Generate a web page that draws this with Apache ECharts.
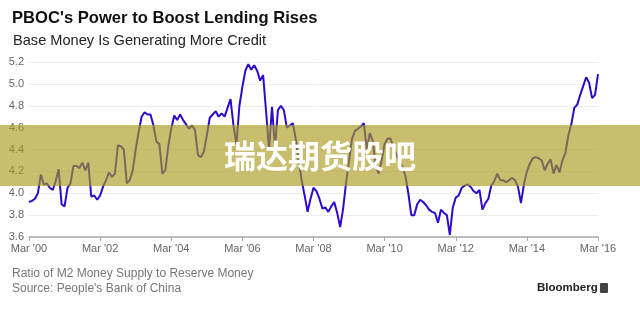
<!DOCTYPE html>
<html><head><meta charset="utf-8">
<script src="https://cdn.jsdelivr.net/npm/echarts@6/dist/echarts.min.js"></script>
<style>html,body{margin:0;padding:0;background:#fff}#c{width:640px;height:312px}</style>
</head><body><div id="c"></div>
<script>
// Monthly ratio of M2 to reserve money, Mar 2000 .. Mar 2016
const ratio = [
3.92,3.93,3.95,4.00,4.17,4.08,4.09,4.05,4.03,4.11,4.22,3.90,
3.88,4.05,4.09,4.25,4.25,4.23,4.28,4.21,4.28,3.97,3.98,3.94,
3.98,4.06,4.12,4.19,4.15,4.18,4.44,4.43,4.40,4.09,4.12,4.21,
4.40,4.56,4.70,4.74,4.72,4.72,4.62,4.47,4.45,4.18,4.21,4.43,
4.59,4.71,4.67,4.72,4.67,4.63,4.59,4.62,4.58,4.35,4.33,4.38,
4.53,4.69,4.72,4.75,4.70,4.73,4.70,4.78,4.86,4.62,4.45,4.80,
4.97,5.12,5.18,5.13,5.17,5.12,5.03,5.08,4.75,4.40,4.79,4.42,
4.76,4.80,4.76,4.60,4.62,4.64,4.50,4.30,4.12,3.98,3.83,3.95,
4.05,4.02,3.95,3.86,3.87,3.83,3.88,3.92,3.82,3.69,3.86,4.10,
4.30,4.50,4.57,4.59,4.61,4.64,4.40,4.55,4.48,4.25,4.18,4.30,
4.45,4.50,4.50,4.42,4.35,4.30,4.24,4.16,4.00,3.80,3.80,3.90,
3.94,3.92,3.89,3.85,3.83,3.82,3.73,3.85,3.82,3.80,3.62,3.87,
3.96,3.98,4.05,4.07,4.08,4.06,4.02,4.00,4.03,3.85,3.91,3.95,
4.07,4.11,4.18,4.12,4.12,4.10,4.12,4.14,4.12,4.06,3.91,4.08,
4.20,4.27,4.32,4.33,4.32,4.30,4.21,4.27,4.31,4.18,4.26,4.19,
4.30,4.37,4.53,4.63,4.78,4.81,4.90,4.98,5.06,5.01,4.87,4.90,
5.09
];
const tickLabels = ["Mar '00","Mar '02","Mar '04","Mar '06","Mar '08","Mar '10","Mar '12","Mar '14","Mar '16"];
const startYear = 2000, startMonth = 3;
const categories = ratio.map((_, i) => {
  const t = startMonth - 1 + i;
  return (startYear + Math.floor(t / 12)) + '-' + String(t % 12 + 1).padStart(2, '0');
});

const chart = echarts.init(document.getElementById('c'), null, {renderer: 'canvas'});
const F = '"Liberation Sans", Arial, sans-serif';
chart.setOption({
  animation: false,
  backgroundColor: '#fff',
  grid: {left: 29, right: 42, top: 62, bottom: 75, containLabel: false},
  xAxis: {
    type: 'category', data: categories, boundaryGap: false,
    axisLine: {show: true, lineStyle: {color: '#aaaaaa', width: 1.5}},
    axisTick: {show: true, interval: 23, length: 4, lineStyle: {color: '#aaaaaa'}},
    axisLabel: {interval: 23, color: '#666', fontSize: 11, fontFamily: F, margin: 6,
      formatter: (v, i) => tickLabels[Math.round(i / 24)]},
    splitLine: {show: false}
  },
  yAxis: {
    type: 'value', min: 3.6, max: 5.2, interval: 0.2,
    axisLine: {show: false}, axisTick: {show: false},
    axisLabel: {color: '#666', fontSize: 11, fontFamily: F, margin: 5, formatter: v => v.toFixed(1)},
    splitLine: {lineStyle: {color: '#ededed', width: 1}}
  },
  series: [{
    type: 'line', data: ratio, showSymbol: false, symbol: 'none',
    lineStyle: {color: '#2e0bcc', width: 2}, z: 3
  }],
  graphic: [
    {type: 'text', left: 12, top: 10, style: {text: "PBOC's Power to Boost Lending Rises", fill: '#111', font: 'bold 16.6px ' + F}},
    {type: 'text', left: 13, top: 33, style: {text: 'Base Money Is Generating More Credit', fill: '#222', font: '14.6px ' + F}},
    {type: 'text', left: 12, top: 268, style: {text: 'Ratio of M2 Money Supply to Reserve Money', fill: '#777', font: '12px ' + F}},
    {type: 'text', left: 12, top: 283, style: {text: "Source: People's Bank of China", fill: '#777', font: '12px ' + F}},
    {type: 'text', left: 537, top: 282, style: {text: 'Bloomberg', fill: '#222', font: 'bold 11.5px ' + F}},
    {type: 'rect', left: 600, top: 283, shape: {width: 8, height: 10, r: 1}, style: {fill: '#444'}},
    {type: 'rect', left: 0, top: 125, z: 100, shape: {width: 640, height: 61}, style: {fill: 'rgba(170,155,30,0.65)'}},
    {type: 'text', x: 320, y: 156, z: 101, style: {text: '瑞达期货股吧', fill: '#fff', font: 'bold 32px "Noto Sans CJK SC"', align: 'center', verticalAlign: 'middle'}}
  ]
});
</script></body></html>
